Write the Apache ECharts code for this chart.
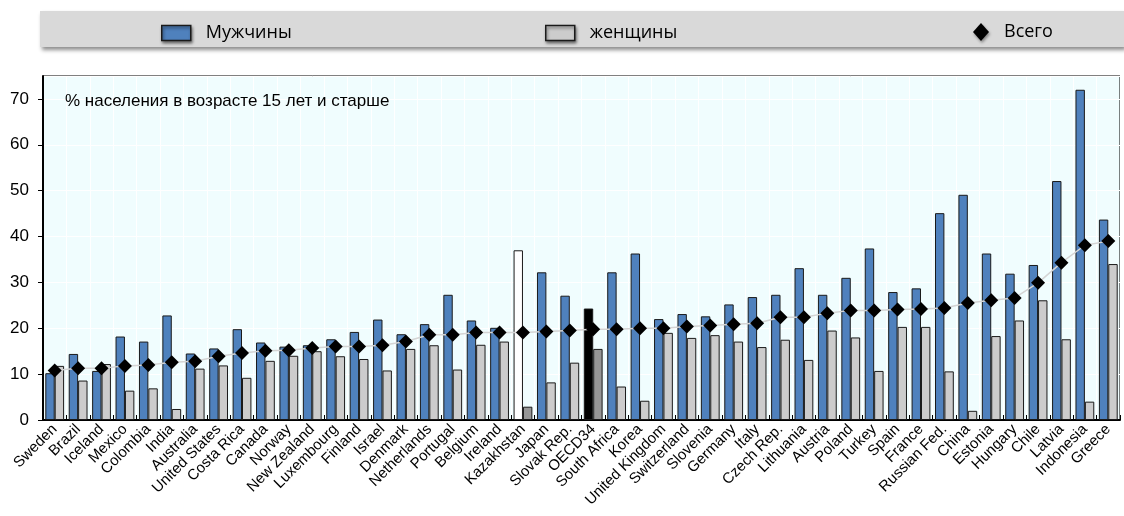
<!DOCTYPE html>
<html>
<head>
<meta charset="utf-8">
<script src="https://cdn.jsdelivr.net/npm/echarts@6/dist/echarts.min.js"></script>
<style>html,body{margin:0;padding:0;background:#fff;}#c{width:1124px;height:516px;}</style>
</head>
<body>
<div id="c"></div>
<script>
const categories = ['Sweden','Brazil','Iceland','Mexico','Colombia','India','Australia','United States','Costa Rica','Canada','Norway','New Zealand','Luxembourg','Finland','Israel','Denmark','Netherlands','Portugal','Belgium','Ireland','Kazakhstan','Japan','Slovak Rep.','OECD34','South Africa','Korea','United Kingdom','Switzerland','Slovenia','Germany','Italy','Czech Rep.','Lithuania','Austria','Poland','Turkey','Spain','France','Russian Fed.','China','Estonia','Hungary','Chile','Latvia','Indonesia','Greece'];
const men = [10.2,14.4,10.7,18.2,17.1,22.8,14.5,15.6,19.8,16.9,16.0,16.3,17.6,19.2,21.9,18.7,20.9,27.3,21.7,20.1,37.0,32.2,27.1,24.3,32.2,36.3,22.0,23.1,22.6,25.2,26.8,27.3,33.1,27.3,31.0,37.4,27.9,28.7,45.1,49.1,36.3,31.9,33.8,52.1,72.0,43.7];
const women = [11.8,8.6,12.2,6.4,6.9,2.4,11.2,11.9,9.2,12.9,14.0,15.0,13.9,13.3,10.8,15.5,16.3,11.0,16.4,17.1,2.9,8.2,12.5,15.5,7.3,4.2,19.0,17.9,18.5,17.1,15.9,17.5,13.1,19.5,18.0,10.7,20.3,20.3,10.6,2.0,18.3,21.7,26.1,17.6,4.0,34.0];
const total = [10.8,11.3,11.3,11.8,12.0,12.6,12.8,13.9,14.6,15.1,15.2,15.7,16.0,16.0,16.3,17.1,18.6,18.6,19.1,19.1,19.1,19.3,19.5,19.8,19.8,20.0,20.0,20.4,20.6,20.9,21.1,22.4,22.4,23.3,23.9,23.9,24.1,24.2,24.4,25.5,26.1,26.6,29.9,34.3,38.1,39.0];
const yTicks = [0,10,20,30,40,50,60,70];

const BLUE = '#4f81bd', LGRAY = '#cccccc', DGRAY = '#969696', EDGE = '#1a1a1a';
const sans = "'Liberation Sans',Arial,sans-serif";

const menData = men.map((v, i) => {
  if (categories[i] === 'OECD34') return {value: v, itemStyle: {color: '#000000'}};
  if (categories[i] === 'Kazakhstan') return {value: v, itemStyle: {color: '#ffffff'}};
  return v;
});
const womenData = women.map((v, i) => {
  if (categories[i] === 'OECD34' || categories[i] === 'Kazakhstan') return {value: v, itemStyle: {color: DGRAY}};
  return v;
});

const chart = echarts.init(document.getElementById('c'), null, {renderer: 'canvas'});
const legendText = {fontFamily: "'Open Sans','Noto Sans',sans-serif", fontSize: 18, color: '#000', padding: [0, 0, 0, 10]};
const iconStyle = {borderColor: EDGE, borderWidth: 1.5, shadowBlur: 3, shadowOffsetX: 1, shadowOffsetY: 2, shadowColor: 'rgba(0,0,0,0.5)'};
chart.setOption({
  animation: false,
  backgroundColor: '#ffffff',
  graphic: [
    {type: 'rect', left: 40, top: 11, z: -10, shape: {width: 1084, height: 36},
     style: {fill: '#d9d9d9', shadowBlur: 4, shadowOffsetX: 2, shadowOffsetY: 3, shadowColor: 'rgba(0,0,0,0.45)'}},
    {type: 'text', left: 65, top: 93, z: 100,
     style: {text: '% населения в возрасте 15 лет и старше', font: "17px " + sans, fill: '#000'}}
  ],
  legend: [
    {data: [{name: 'Мужчины', icon: 'rect'}], left: 161, top: 24, padding: 0, itemWidth: 29, itemHeight: 15, textStyle: legendText, itemStyle: iconStyle},
    {data: [{name: 'женщины', icon: 'rect'}], left: 545, top: 24, padding: 0, itemWidth: 29, itemHeight: 15, textStyle: legendText, itemStyle: iconStyle},
    {data: [{name: 'Всего', icon: 'diamond'}], left: 973, top: 23, padding: 0, itemWidth: 16, itemHeight: 18, textStyle: legendText,
     itemStyle: {shadowBlur: 3, shadowOffsetX: 1, shadowOffsetY: 2, shadowColor: 'rgba(0,0,0,0.4)'}}
  ],
  grid: {left: 43, right: 4, top: 76, bottom: 96, show: true, backgroundColor: '#f0fdfe', borderColor: '#000', borderWidth: 1},
  xAxis: {
    type: 'category', data: categories,
    axisLine: {show: true, lineStyle: {color: '#000', width: 2}},
    axisTick: {show: true, inside: true, length: 5, interval: 0, lineStyle: {color: '#000'}},
    splitLine: {show: true, interval: 0, lineStyle: {color: '#ffffff', width: 1}},
    axisLabel: {interval: 0, rotate: 45, margin: 7, fontSize: 15, color: '#000', fontFamily: sans}
  },
  yAxis: {
    type: 'value', min: 0, max: 75, interval: 10,
    axisLine: {show: true, lineStyle: {color: '#000', width: 2}},
    axisTick: {show: true, length: 5, lineStyle: {color: '#000'}},
    axisLabel: {showMaxLabel: false, fontSize: 17, color: '#000', margin: 14, fontFamily: sans},
    splitLine: {show: true, lineStyle: {color: '#ffffff', width: 1}}
  },
  series: [
    {name: 'Мужчины', type: 'bar', data: menData, barWidth: 9.4, barGap: '0%',
     itemStyle: {color: BLUE, borderColor: EDGE, borderWidth: 1}},
    {name: 'женщины', type: 'bar', data: womenData, barWidth: 9.4, barGap: '0%',
     itemStyle: {color: LGRAY, borderColor: EDGE, borderWidth: 1}},
    {name: 'Всего', type: 'line', data: total, symbol: 'diamond', symbolSize: 14, z: 5,
     lineStyle: {color: '#d4d4d4', width: 1.5}, itemStyle: {color: '#000000'}}
  ]
});
</script>
</body>
</html>
